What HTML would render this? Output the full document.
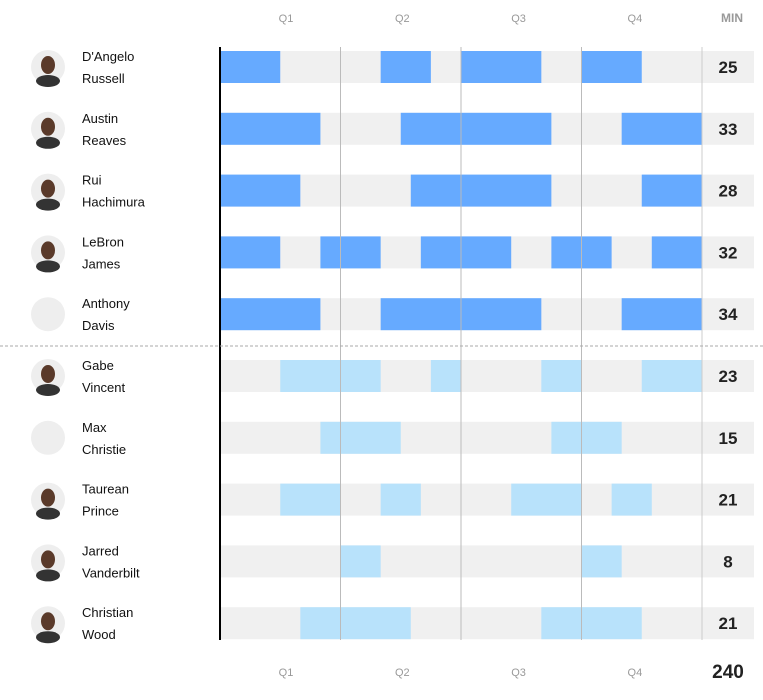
<!DOCTYPE html>
<html><head><meta charset="utf-8"><style>
body{margin:0;background:#fff;font-family:"Liberation Sans",sans-serif}
svg{display:block}
</style></head><body>
<svg id="c" width="763" height="700"></svg>
<script>
const players=["D'Angelo|Russell","Austin|Reaves","Rui|Hachimura","LeBron|James","Anthony|Davis","Gabe|Vincent","Max|Christie","Taurean|Prince","Jarred|Vanderbilt","Christian|Wood"];
const starter=[true,true,true,true,true,false,false,false,false,false];
const stints=[
[[0,6],[16,21],[24,32],[36,42]],
[[0,10],[18,33],[40,48]],
[[0,8],[19,33],[42,48]],
[[0,6],[10,16],[20,29],[33,39],[43,48]],
[[0,10],[16,32],[40,48]],
[[6,16],[21,24],[32,36],[42,48]],
[[10,18],[33,40]],
[[6,12],[16,20],[29,36],[39,43]],
[[12,16],[36,40]],
[[8,19],[32,42]]];
const quarters=["Q1","Q2","Q3","Q4"];
const total=240;
const svg=document.getElementById('c');const NS='http://www.w3.org/2000/svg';
const x0=220,x1=702;const x=m=>x0+(x1-x0)*m/48;const rowY=i=>67+i*61.8;
function el(t,a,txt){const e=document.createElementNS(NS,t);for(const k in a)e.setAttribute(k,a[k]);if(txt!=null)e.textContent=txt;svg.appendChild(e);return e;}
quarters.forEach((q,i)=>{const cx=286+i*116.3;
const h=el('text',{x:cx,y:22,'text-anchor':'middle','font-size':11,fill:'#999'},q);

const f=el('text',{x:cx,y:676,'text-anchor':'middle','font-size':11,fill:'#999'},q);
});
const mh=el('text',{x:732,y:22,'text-anchor':'middle','font-size':12,'font-weight':'bold',fill:'#999'},'MIN');

players.forEach((p,i)=>{const cy=rowY(i);
const tr=el('rect',{x:x0,y:cy-16,width:x1-x0+52,height:32,fill:'#f0f0f0'});

stints[i].forEach(s=>{const r=el('rect',{x:x(s[0]),y:cy-16,width:x(s[1])-x(s[0]),height:32,fill:starter[i]?'#66aaff':'#b8e2fb'});
});
const mins=stints[i].reduce((a,s)=>a+s[1]-s[0],0);
const m=el('text',{x:728,y:cy+6,'text-anchor':'middle','font-size':17,'font-weight':'bold',fill:'#222'},mins);

const av=el('circle',{cx:48,cy:cy,r:17,fill:'#eee'});

if(i!=4&&i!=6){
const bd=el('ellipse',{cx:48,cy:cy+14,rx:12,ry:6,fill:'#333'});

const hd=el('ellipse',{cx:48,cy:cy-2,rx:7,ry:9,fill:'#5a3a2a'});
}
const [a,b]=p.split('|');
const n1=el('text',{x:82,y:cy-6,'font-size':13,fill:'#111'},a);

const n2=el('text',{x:82,y:cy+16,'font-size':13,fill:'#111'},b);
});
[1,2,3].forEach(q=>{const l=el('line',{x1:x(q*12),x2:x(q*12),y1:47,y2:640,stroke:'#bbb','stroke-width':1});
});
const e=el('line',{x1:x1,x2:x1,y1:47,y2:640,stroke:'#ccc','stroke-width':1});

const ax=el('line',{x1:x0,x2:x0,y1:47,y2:640,stroke:'#000','stroke-width':2});

const d=el('line',{x1:0,x2:763,y1:346,y2:346,stroke:'#aaa','stroke-dasharray':'3,2'});

const t=el('text',{x:728,y:678,'text-anchor':'middle','font-size':19,'font-weight':'bold',fill:'#222'},total);

</script>
</body></html>
